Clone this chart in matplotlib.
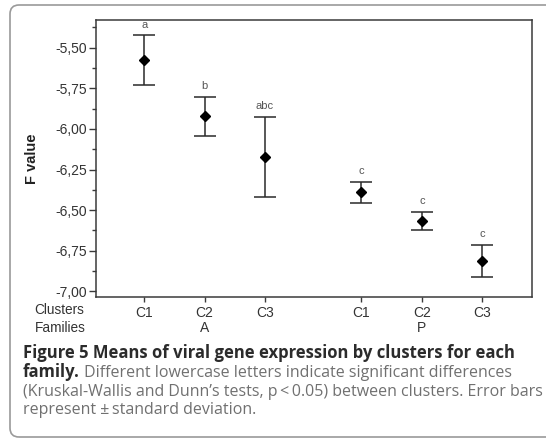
import matplotlib
matplotlib.use("Agg")
import matplotlib.pyplot as plt
from matplotlib.patches import FancyBboxPatch
from matplotlib.transforms import IdentityTransform
from matplotlib.ticker import MultipleLocator, FuncFormatter

plt.rcParams["font.family"] = ["Liberation Sans", "DejaVu Sans"]

# valores
posicoes = [0, 1, 2, 3.6, 4.6, 5.6]
clusters = ["C1", "C2", "C3", "C1", "C2", "C3"]
familias = ["A", "A", "A", "P", "P", "P"]
medias = [-5.575, -5.922, -6.171, -6.390, -6.566, -6.811]
desvios = [0.153, 0.121, 0.245, 0.066, 0.056, 0.099]
letras = ["a", "b", "abc", "c", "c", "c"]
yticks = [-7.00, -6.75, -6.50, -6.25, -6.00, -5.75, -5.50]

legenda_negrito1 = "Figure 5 Means of viral gene expression by clusters for each"
legenda_negrito2 = "family."
legenda_linhas = [
    " Different lowercase letters indicate significant differences",
    "(Kruskal-Wallis and Dunn\u2019s tests, p\u2009<\u20090.05) between clusters. Error bars",
    "represent \u00b1\u2009standard deviation.",
]

W, H = 546, 441
fig = plt.figure(figsize=(W / 100, H / 100), dpi=100)

# moldura arredondada
moldura = FancyBboxPatch((10, H - 437), 560, 432,
                         boxstyle="round,pad=0,rounding_size=9",
                         transform=IdentityTransform(), facecolor="none",
                         edgecolor="#9a9a9a", linewidth=1.2, zorder=-1)
fig.add_artist(moldura)

ax = fig.add_axes([95.9 / W, 1 - 296.7 / H, (531.7 - 95.9) / W, (296.7 - 20) / H])
ax.set_facecolor("none")

ax.errorbar(posicoes, medias, yerr=desvios, fmt="none", ecolor="#2a2a2a",
            elinewidth=1.1, capsize=8, capthick=1.1)
ax.plot(posicoes, medias, "D", color="black", markersize=5.6, linestyle="none")

for x, m, s, l in zip(posicoes, medias, desvios, letras):
    ax.annotate(l, (x, m + s), xytext=(0, 4), textcoords="offset points",
                ha="center", va="bottom", fontsize=8, color="#555555")

ax.set_xlim(-0.8, 6.42)
ax.set_ylim(-7.033, -5.329)
ax.set_yticks(yticks)
ax.yaxis.set_minor_locator(MultipleLocator(0.125))
ax.yaxis.set_major_formatter(FuncFormatter(lambda v, p: f"{v:.2f}".replace(".", ",")))
ax.set_xticks(posicoes)
ax.set_xticklabels(clusters)

for lado in ax.spines.values():
    lado.set_color("#3a3a3a")
    lado.set_linewidth(1.1)

ax.tick_params(axis="y", which="major", length=5, width=1, color="#3a3a3a",
               pad=1.5, labelsize=10, labelcolor="#333333")
ax.tick_params(axis="y", which="minor", length=3, width=1, color="#3a3a3a")
ax.tick_params(axis="x", length=3.5, width=1, color="#3a3a3a", pad=3,
               labelsize=10, labelcolor="#333333")

ax.set_ylabel("F value", fontsize=10.5, fontweight="bold", color="#222222")
ax.yaxis.set_label_coords((38.6 - 95.9) / (531.7 - 95.9), 0.5)

# rotulo das familias centrado em cada grupo
for f in ["A", "P"]:
    xs = [x for x, ff in zip(posicoes, familias) if ff == f]
    ax.annotate(f, (sum(xs) / len(xs), 0), xycoords=("data", "axes fraction"),
                xytext=(0, -22.5), textcoords="offset points", ha="center",
                va="center", fontsize=10, color="#333333")

fig.text(34.7 / W, 1 - 310 / H, "Clusters", ha="left", va="center", fontsize=9.8,
         color="#333333")
fig.text(34.7 / W, 1 - 328 / H, "Families", ha="left", va="center", fontsize=9.8,
         color="#333333")

# legenda da figura
x0 = 23 / W
tam_b = 12.0
tam_r = 11.55
base = [358, 377, 396, 414.5]
fig.text(x0, 1 - base[0] / H, legenda_negrito1, fontsize=tam_b, fontweight="bold",
         color="#2b2b2b", family="Open Sans", va="baseline")
t2 = fig.text(x0, 1 - base[1] / H, legenda_negrito2, fontsize=tam_b, fontweight="bold",
              color="#2b2b2b", family="Open Sans", va="baseline")
ax.annotate(legenda_linhas[0], (1, 0), xycoords=t2, ha="left", va="bottom",
            fontsize=tam_r, color="#707070", family="Open Sans", annotation_clip=False)
for i, linha in enumerate(legenda_linhas[1:]):
    fig.text(x0, 1 - base[i + 2] / H, linha, fontsize=tam_r, color="#707070",
             family=["Open Sans", "DejaVu Sans"], va="baseline")

fig.savefig("out.png", dpi=100)
